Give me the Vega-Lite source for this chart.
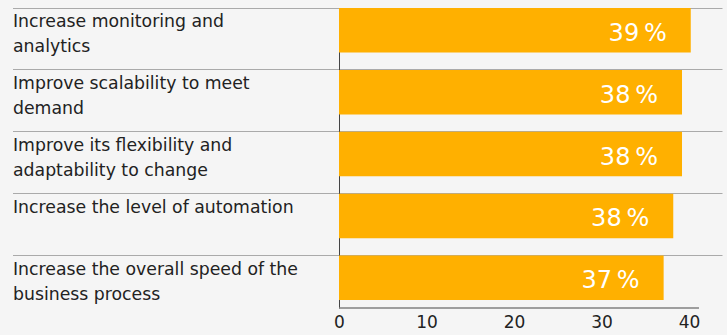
{
  "$schema": "https://vega.github.io/schema/vega-lite/v6.json",
  "width": 383,
  "height": 300,
  "autosize": {"type": "none"},
  "padding": {"left": 339, "top": 8, "right": 5, "bottom": 27},
  "background": "#f5f5f5",
  "config": {"view": {"stroke": null}, "font": "DejaVu Sans"},
  "data": {
    "values": [
      {"goal": "Increase monitoring and\nanalytics", "value": 40.2, "label": "39\u2009%"},
      {"goal": "Improve scalability to meet\ndemand", "value": 39.2, "label": "38\u2009%"},
      {"goal": "Improve its flexibility and\nadaptability to change", "value": 39.2, "label": "38\u2009%"},
      {"goal": "Increase the level of automation", "value": 38.2, "label": "38\u2009%"},
      {"goal": "Increase the overall speed of the\nbusiness process", "value": 37.1, "label": "37\u2009%"}
    ]
  },
  "layer": [
    {
      "mark": {"type": "bar", "color": "#ffb000"},
      "encoding": {
        "y": {
          "field": "goal", "type": "nominal", "sort": null, "title": null,
          "scale": {"paddingInner": 0.281, "paddingOuter": 0.064, "align": 0},
          "axis": {
            "bandPosition": 0,
            "grid": true, "gridColor": "#aaaaaa", "gridWidth": 1,
            "ticks": true, "tickSize": 326.5, "tickColor": "#aaaaaa", "tickWidth": 1,
            "domainColor": "#444444", "domainWidth": 1,
            "labelAlign": "left", "labelBaseline": "top", "labelPadding": 0, "labelOffset": -17,
            "labelFontSize": 17.3, "labelColor": "#222222", "labelLineHeight": 25,
            "labelLimit": 400, "labelOverlap": false,
            "labelExpr": "split(datum.label, '\\n')"
          }
        },
        "x": {
          "field": "value", "type": "quantitative", "title": null,
          "scale": {"domain": [0, 43.77], "nice": false, "zero": true},
          "axis": {
            "values": [0, 10, 20, 30, 40],
            "domain": false, "ticks": false, "tickSize": 0, "grid": false,
            "labelFontSize": 17, "labelColor": "#222222", "labelPadding": 6,
            "labelFlush": false, "labelOverlap": false
          }
        }
      }
    },
    {
      "mark": {"type": "text", "align": "right", "baseline": "alphabetic", "dx": -24, "dy": 10.5, "fontSize": 24, "color": "#ffffff"},
      "encoding": {
        "y": {"field": "goal", "type": "nominal", "sort": null, "title": null},
        "x": {"field": "value", "type": "quantitative", "title": null},
        "text": {"field": "label"}
      }
    },
    {
      "data": {"values": [{}]},
      "mark": {"type": "rule", "color": "#808080", "strokeWidth": 1.3},
      "encoding": {
        "x": {"datum": 0, "type": "quantitative", "title": null},
        "x2": {"datum": 41.14},
        "y": {"value": "height"}
      }
    }
  ]
}
